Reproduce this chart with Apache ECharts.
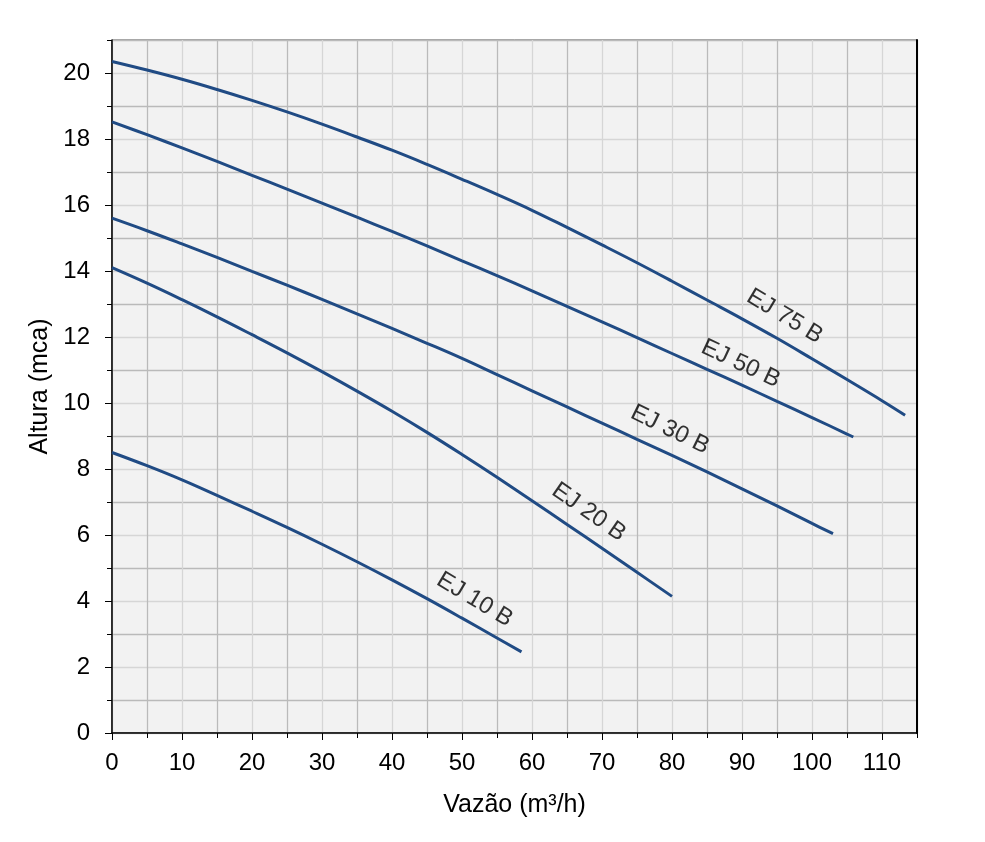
<!DOCTYPE html>
<html>
<head>
<meta charset="utf-8">
<title>Curvas EJ</title>
<script src="https://cdn.jsdelivr.net/npm/echarts@6/dist/echarts.min.js"></script>
<style>
  html, body { margin: 0; padding: 0; background: #ffffff; }
  #chart { width: 985px; height: 842px; }
</style>
</head>
<body>
<div id="chart"></div>
<script>
// vazão (m3/h) e altura (mca)
const qEJ10 = [0, 5, 10, 15, 20, 25, 30, 35, 40, 45, 50, 55, 58.5];
const hEJ10 = [8.5, 8.1, 7.67, 7.2, 6.72, 6.23, 5.72, 5.19, 4.64, 4.07, 3.48, 2.88, 2.46];

const qEJ20 = [0, 5, 10, 15, 20, 25, 30, 35, 40, 45, 50, 55, 60, 65, 70, 75, 80];
const hEJ20 = [14.1, 13.63, 13.13, 12.61, 12.07, 11.52, 10.95, 10.36, 9.75, 9.11, 8.44, 7.75, 7.04, 6.32, 5.6, 4.87, 4.14];

const qEJ30 = [0, 5, 10, 15, 20, 25, 30, 35, 40, 45, 50, 55, 60, 65, 70, 75, 80, 85, 90, 95, 100, 103];
const hEJ30 = [15.6, 15.22, 14.82, 14.41, 13.99, 13.57, 13.14, 12.7, 12.26, 11.81, 11.35, 10.86, 10.37, 9.88, 9.39, 8.9, 8.41, 7.91, 7.4, 6.88, 6.35, 6.04];

const qEJ50 = [0, 5, 10, 15, 20, 25, 30, 35, 40, 45, 50, 55, 60, 65, 70, 75, 80, 85, 90, 95, 100, 105, 105.9];
const hEJ50 = [18.52, 18.13, 17.73, 17.32, 16.9, 16.48, 16.06, 15.63, 15.2, 14.76, 14.31, 13.86, 13.4, 12.93, 12.46, 11.98, 11.5, 11.02, 10.54, 10.05, 9.56, 9.06, 8.97];

const qEJ75 = [0, 5, 10, 15, 20, 25, 30, 35, 40, 45, 50, 55, 60, 65, 70, 75, 80, 85, 90, 95, 100, 105, 110, 113.3];
const hEJ75 = [20.35, 20.09, 19.81, 19.5, 19.17, 18.82, 18.45, 18.06, 17.66, 17.23, 16.78, 16.32, 15.84, 15.32, 14.79, 14.25, 13.69, 13.12, 12.55, 11.96, 11.34, 10.71, 10.07, 9.63];

// nomes das curvas e onde ficam os rótulos
const curveNames = ['EJ 10 B', 'EJ 20 B', 'EJ 30 B', 'EJ 50 B', 'EJ 75 B'];
const labelQ = [51.8, 68.1, 79.7, 89.8, 96.1];
const labelH = [4.04, 6.69, 9.19, 11.19, 12.62];
const labelAngle = [31, 35, 26, 25, 31];

// marcas dos eixos
const xTickValues = [0, 10, 20, 30, 40, 50, 60, 70, 80, 90, 100, 110];
const yTickValues = [0, 2, 4, 6, 8, 10, 12, 14, 16, 18, 20];

const qSeries = [qEJ10, qEJ20, qEJ30, qEJ50, qEJ75];
const hSeries = [hEJ10, hEJ20, hEJ30, hEJ50, hEJ75];

let myChart = echarts.init(document.getElementById('chart'));
const font = "'Liberation Sans', Arial, sans-serif";
const lineColor = '#204b84';

function pairs(xs, ys) {
    let out = [];
    for (let i = 0; i < xs.length; i++) {
        out.push([xs[i], ys[i]]);
    }
    return out;
}

let series = [];
for (let i = 0; i < curveNames.length; i++) {
    series.push({
        name: curveNames[i],
        type: 'line',
        xAxisIndex: 0,
        yAxisIndex: 0,
        data: pairs(qSeries[i], hSeries[i]),
        smooth: 0.4,
        showSymbol: false,
        lineStyle: { color: lineColor, width: 3 },
        emphasis: { disabled: true },
        z: 5
    });
}

// rótulos ao longo das curvas
let labelData = [];
for (let i = 0; i < curveNames.length; i++) {
    labelData.push({
        value: [labelQ[i], labelH[i]],
        label: { formatter: curveNames[i], rotate: -labelAngle[i] }
    });
}
series.push({
    type: 'scatter',
    xAxisIndex: 0,
    yAxisIndex: 0,
    data: labelData,
    symbolSize: 1,
    itemStyle: { color: 'transparent' },
    label: {
        show: true,
        position: 'inside',
        align: 'center',
        verticalAlign: 'middle',
        color: '#000',
        fontSize: 24,
        fontFamily: font
    },
    emphasis: { disabled: true },
    silent: true,
    z: 6
});

let option = {
    animation: false,
    backgroundColor: '#ffffff',
    grid: {
        left: 112,
        right: 68,
        top: 40,
        bottom: 109,
        show: true,
        backgroundColor: '#f2f2f2',
        borderColor: '#444',
        borderWidth: 1
    },
    xAxis: [
        {
            type: 'value',
            position: 'bottom',
            min: 0,
            max: 115,
            interval: 5,
            axisLine: { show: true, lineStyle: { color: '#000', width: 1.5 } },
            axisTick: { show: true, length: 5, lineStyle: { color: '#000', width: 1 } },
            axisLabel: { show: false },
            splitLine: { show: true, lineStyle: { color: ['#d6d6d6', '#bababa'], width: 1.3 } }
        },
        {
            type: 'value',
            position: 'bottom',
            min: 0,
            max: 115,
            interval: 10,
            name: 'Vazão (m³/h)',
            nameLocation: 'middle',
            nameGap: 60,
            nameTextStyle: { color: '#000', fontSize: 25, fontFamily: font },
            axisLine: { show: false },
            axisTick: { show: true, length: 7, customValues: xTickValues, lineStyle: { color: '#000', width: 1 } },
            axisLabel: {
                show: true,
                customValues: xTickValues,
                margin: 18,
                color: '#000',
                fontSize: 24,
                fontFamily: font
            },
            splitLine: { show: false }
        }
    ],
    yAxis: [
        {
            type: 'value',
            position: 'left',
            min: 0,
            max: 21,
            interval: 1,
            axisLine: { show: true, lineStyle: { color: '#000', width: 1.5 } },
            axisTick: { show: true, length: 5, lineStyle: { color: '#000', width: 1 } },
            axisLabel: { show: false },
            splitLine: { show: true, lineStyle: { color: ['#d6d6d6', '#bababa'], width: 1.3 } }
        },
        {
            type: 'value',
            position: 'left',
            min: 0,
            max: 21,
            interval: 2,
            name: 'Altura (mca)',
            nameLocation: 'middle',
            nameGap: 57,
            nameTextStyle: { color: '#000', fontSize: 25, fontFamily: font },
            axisLine: { show: false },
            axisTick: { show: true, length: 7, customValues: yTickValues, lineStyle: { color: '#000', width: 1 } },
            axisLabel: {
                show: true,
                customValues: yTickValues,
                margin: 22,
                color: '#000',
                fontSize: 24,
                fontFamily: font
            },
            splitLine: { show: false }
        },
        {
            type: 'value',
            position: 'right',
            min: 0,
            max: 21,
            axisLine: { show: true, lineStyle: { color: '#000', width: 2 } },
            axisTick: { show: false },
            axisLabel: { show: false },
            splitLine: { show: false }
        }
    ],
    series: series
};

myChart.setOption(option, true);
window.addEventListener('resize', function () {
    myChart.resize();
});
</script>
</body>
</html>
